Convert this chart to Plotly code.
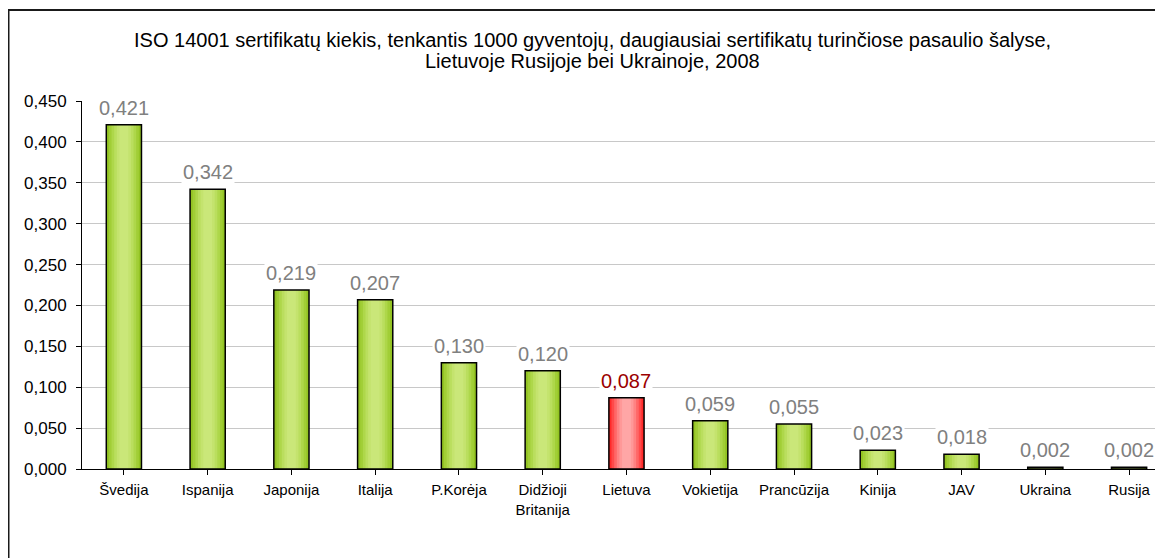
import plotly.graph_objects as go

categories = ["Švedija", "Ispanija", "Japonija", "Italija", "P.Korėja", "Didžioji<br>Britanija",
              "Lietuva", "Vokietija", "Prancūzija", "Kinija", "JAV", "Ukraina", "Rusija"]
values = [0.421, 0.342, 0.219, 0.207, 0.130, 0.120, 0.087, 0.059, 0.055, 0.023, 0.018, 0.002, 0.002]
highlight = "Lietuva"
title_lines = ["ISO 14001 sertifikatų kiekis, tenkantis 1000 gyventojų, daugiausiai sertifikatų turinčiose pasaulio šalyse,",
               "Lietuvoje Rusijoje bei Ukrainoje, 2008"]

# gradient layers (edge -> centre)
green_layers = ["#93C323", "#A1CE36", "#AED74A", "#BADE5E", "#C4E36E", "#CAE779"]
red_layers = ["#FF2A2A", "#FF4A4A", "#FF6767", "#FF8282", "#FF9898", "#FFA6A6"]
width_fracs = [1.0, 0.85, 0.7, 0.55, 0.4, 0.25]
bar_w = 0.42

W, H = 1155, 550
ML, MT, MB = 74, 93, 89
PW, PH = W - ML, H - MT - MB

fig = go.Figure()
x_idx = list(range(len(categories)))
for i, frac in enumerate(width_fracs):
    cols = [red_layers[i] if c == highlight else green_layers[i] for c in categories]
    fig.add_trace(go.Bar(x=x_idx, y=values, width=bar_w * frac, marker=dict(color=cols, line=dict(width=0)),
                         hoverinfo="skip", showlegend=False))
fig.add_trace(go.Bar(x=x_idx, y=values, width=bar_w,
                     marker=dict(color="rgba(0,0,0,0)", line=dict(color="black", width=1.5)),
                     showlegend=False))

for i, (c, v) in enumerate(zip(categories, values)):
    fig.add_annotation(x=i, y=v, xref="x", yref="y", text=f"{v:.3f}".replace(".", ","),
                       showarrow=False, yanchor="middle", yshift=17,
                       font=dict(family="Liberation Sans, Arial", size=20,
                                 color="#9B0000" if c == highlight else "#808080"),
                       bgcolor="white", borderpad=1)

# two-line title
for line, fy in zip(title_lines, [32, 53]):
    fig.add_annotation(text=line, xref="paper", yref="paper", x=(584 - ML) / PW, y=(H - MB - fy) / PH,
                       xanchor="center", yanchor="middle", showarrow=False,
                       font=dict(family="Liberation Sans, Arial", size=20, color="black"))

# outer frame
fig.add_shape(type="rect", xref="paper", yref="paper", x0=(0.5 - ML) / PW, x1=1.3,
              y0=-0.6, y1=(H - MB - 2) / PH,
              line=dict(color="#1a1a1a", width=2), fillcolor="rgba(0,0,0,0)", layer="above")

fig.update_layout(
    width=W, height=H,
    margin=dict(l=ML, r=0, t=MT, b=MB),
    paper_bgcolor="white", plot_bgcolor="white",
    barmode="overlay",
    separators=", ",
    font=dict(family="Liberation Sans, Arial", size=15, color="black"),
    xaxis=dict(tickmode="array", tickvals=x_idx, ticktext=categories, range=[-0.5, 12.405],
               tickson="boundaries", ticks="outside", ticklen=5, tickcolor="black",
               showline=True, linecolor="black", linewidth=1, showgrid=False,
               tickfont=dict(size=15), ticklabelstandoff=2),
    yaxis=dict(range=[0, 0.45], dtick=0.05, tickformat=".3f", ticks="outside", ticklen=5,
               tickcolor="black", showline=True, linecolor="black", linewidth=1,
               showgrid=True, gridcolor="#C8C8C8", gridwidth=1, zeroline=False,
               tickfont=dict(size=17), ticklabelstandoff=6),
)

fig.write_html("out.html")
